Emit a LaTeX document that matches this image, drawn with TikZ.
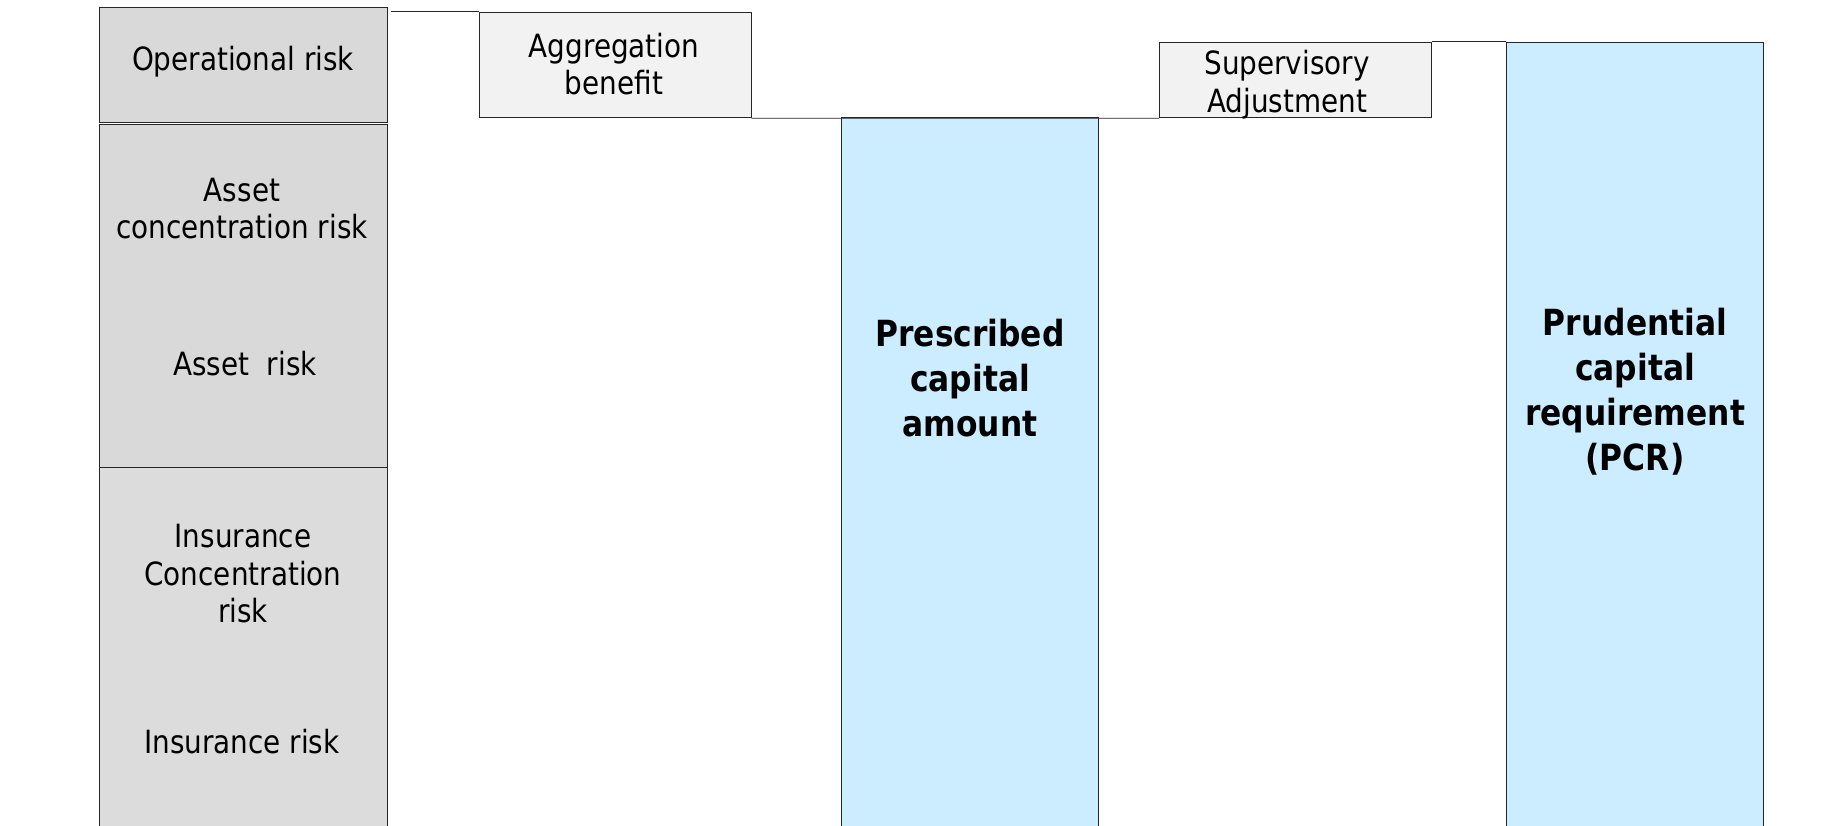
\documentclass[tikz,border=0pt]{standalone}
\usepackage{fontspec}
\setmainfont[FakeStretch=0.87]{DejaVu Sans}
\definecolor{riskgrey}{HTML}{D9D9D9}
\definecolor{riskgreyb}{HTML}{DCDCDC}
\definecolor{adjgrey}{HTML}{F2F2F2}
\definecolor{capblue}{HTML}{CCECFF}
\begin{document}
\begin{tikzpicture}[x=1pt,y=-1pt,
  blk/.style={draw=black!85, line width=1pt, rectangle, inner sep=0pt, anchor=north west},
  lbl/.style={align=center, font=\fontsize{32}{37.5}\selectfont, inner sep=0pt},
  blbl/.style={align=center, font=\fontsize{36}{45}\selectfont\bfseries, inner sep=0pt},
  link/.style={draw=black!85, line width=0.8pt}]
\useasboundingbox (0,0) rectangle (1821,825);
\clip (0,0) rectangle (1821,825);
% left stacked column
\node[blk, fill=riskgrey, minimum width=288pt, minimum height=115pt] (op) at (99,7) {};
\node[blk, fill=riskgrey, minimum width=288pt, minimum height=343pt] (asset) at (99,124) {};
\node[blk, fill=riskgreyb, minimum width=288pt, minimum height=380pt] (ins) at (99,467) {};
\node[lbl] (opt) at (243,61.5) {Operational risk};
\node[lbl] (act) at (242,208.5) {Asset\\concentration risk};
\node[lbl] (art) at (245,364) {Asset\ \ risk};
\node[lbl] (ict) at (243,574) {Insurance\\Concentration\\risk};
\node[lbl] (irt) at (242,742) {Insurance risk};
% aggregation benefit
\node[blk, fill=adjgrey, minimum width=272pt, minimum height=105.7pt] (agg) at (478.5,11.6) {};
\node[lbl] (aggt) at (614,64) {Aggregation\\benefit};
% prescribed capital amount
\node[blk, fill=capblue, minimum width=256.6pt, minimum height=730pt] (pca) at (841,117.3) {};
\node[blbl] (pcat) at (970,378) {Prescribed\\capital\\amount};
% supervisory adjustment
\node[blk, fill=adjgrey, minimum width=272pt, minimum height=75.5pt] (sup) at (1159,41.8) {};
\node[lbl] (supt) at (1287,84.5) {Supervisory\\Adjustment};
% PCR
\node[blk, fill=capblue, minimum width=257pt, minimum height=805pt] (pcr) at (1506,41.8) {};
\node[blbl] (pcrt) at (1635,391.5) {Prudential\\capital\\requirement\\(PCR)};
% connecting lines
\coordinate (opend) at ([xshift=3pt]op.north east |- agg.north west);
\draw[link] (opend) -- (agg.north west);
\draw[link] (agg.south east) -- (sup.south west);
\draw[link] (sup.north east) -- (pcr.north west);
\end{tikzpicture}
\end{document}
